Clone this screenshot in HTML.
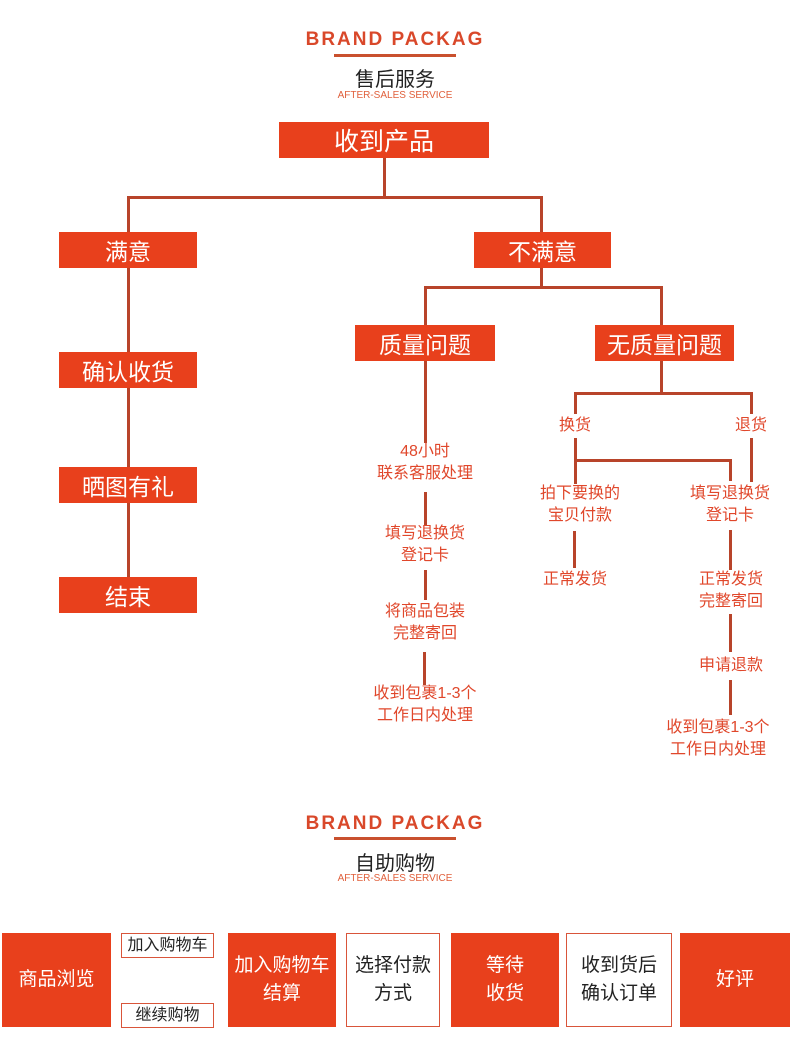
<!DOCTYPE html>
<html><head><meta charset="utf-8"><style>
body{margin:0;width:790px;height:1055px;background:#fff;position:relative;overflow:hidden;font-family:"Liberation Sans","Noto Sans CJK SC",sans-serif}
.a{position:absolute}
.b{position:absolute;background:#e8401c;color:#fff;font-size:23px;display:flex;align-items:center;justify-content:center}
.l{position:absolute;background:#b8442a}
.t{position:absolute;color:#e0472b;font-size:16px;text-align:center;line-height:22px;transform:translateX(-50%);white-space:nowrap}
.h{position:absolute;left:0;width:790px;text-align:center}
.w{position:absolute;background:#fff;border:1px solid #d9553a;color:#222;font-size:19px;display:flex;align-items:center;justify-content:center;text-align:center;line-height:28px;box-sizing:border-box}
.o{position:absolute;background:#e8401c;color:#fff;font-size:19px;display:flex;align-items:center;justify-content:center;text-align:center;line-height:28px}
</style></head><body>
<div class="h" style="top:29px;font-size:19px;font-weight:bold;color:#d9482a;letter-spacing:2px">BRAND PACKAG</div>
<div class="a" style="left:334px;top:54px;width:122px;height:3px;background:#c9502e"></div>
<div class="h" style="top:63px;font-size:20px;color:#222">售后服务</div>
<div class="h" style="top:90px;font-size:10px;color:#e0603c">AFTER-SALES SERVICE</div>

<div class="l" style="left:383px;top:158px;width:3px;height:40px"></div>
<div class="l" style="left:127px;top:196px;width:415px;height:3px"></div>
<div class="l" style="left:540px;top:196px;width:3px;height:40px"></div>
<div class="l" style="left:127px;top:196px;width:3px;height:410px"></div>
<div class="l" style="left:540px;top:266px;width:3px;height:22px"></div>
<div class="l" style="left:424px;top:286px;width:238px;height:3px"></div>
<div class="l" style="left:424px;top:286px;width:3px;height:40px"></div>
<div class="l" style="left:660px;top:286px;width:3px;height:40px"></div>

<div class="b" style="left:279px;top:122px;width:210px;height:36px;font-size:25px">收到产品</div>
<div class="b" style="left:59px;top:232px;width:138px;height:36px">满意</div>
<div class="b" style="left:474px;top:232px;width:137px;height:36px">不满意</div>
<div class="b" style="left:59px;top:352px;width:138px;height:36px">确认收货</div>
<div class="b" style="left:59px;top:467px;width:138px;height:36px">晒图有礼</div>
<div class="b" style="left:59px;top:577px;width:138px;height:36px">结束</div>
<div class="b" style="left:355px;top:325px;width:140px;height:36px">质量问题</div>
<div class="b" style="left:595px;top:325px;width:139px;height:36px">无质量问题</div>

<div class="l" style="left:424px;top:361px;width:3px;height:82px"></div>
<div class="l" style="left:424px;top:492px;width:3px;height:33px"></div>
<div class="l" style="left:424px;top:570px;width:3px;height:30px"></div>
<div class="l" style="left:423px;top:652px;width:3px;height:33px"></div>
<div class="t" style="left:425px;top:441px">48小时<br>联系客服处理</div>
<div class="t" style="left:425px;top:523px">填写退换货<br>登记卡</div>
<div class="t" style="left:425px;top:601px">将商品包装<br>完整寄回</div>
<div class="t" style="left:425px;top:683px">收到包裹1-3个<br>工作日内处理</div>

<div class="l" style="left:660px;top:361px;width:3px;height:33px"></div>
<div class="l" style="left:574px;top:392px;width:179px;height:3px"></div>
<div class="l" style="left:574px;top:392px;width:3px;height:22px"></div>
<div class="l" style="left:750px;top:392px;width:3px;height:22px"></div>
<div class="t" style="left:575px;top:415px">换货</div>
<div class="t" style="left:751px;top:415px">退货</div>
<div class="l" style="left:574px;top:438px;width:3px;height:46px"></div>
<div class="l" style="left:574px;top:459px;width:157px;height:3px"></div>
<div class="l" style="left:729px;top:459px;width:3px;height:22px"></div>
<div class="l" style="left:750px;top:438px;width:3px;height:44px"></div>
<div class="t" style="left:580px;top:483px">拍下要换的<br>宝贝付款</div>
<div class="t" style="left:730px;top:483px">填写退换货<br>登记卡</div>
<div class="l" style="left:573px;top:531px;width:3px;height:37px"></div>
<div class="t" style="left:575px;top:569px">正常发货</div>
<div class="l" style="left:729px;top:530px;width:3px;height:40px"></div>
<div class="t" style="left:731px;top:569px">正常发货<br>完整寄回</div>
<div class="l" style="left:729px;top:614px;width:3px;height:38px"></div>
<div class="t" style="left:731px;top:655px">申请退款</div>
<div class="l" style="left:729px;top:680px;width:3px;height:35px"></div>
<div class="t" style="left:718px;top:717px">收到包裹1-3个<br>工作日内处理</div>

<div class="h" style="top:813px;font-size:19px;font-weight:bold;color:#d9482a;letter-spacing:2px">BRAND PACKAG</div>
<div class="a" style="left:334px;top:837px;width:122px;height:3px;background:#c9502e"></div>
<div class="h" style="top:847px;font-size:20px;color:#222">自助购物</div>
<div class="h" style="top:873px;font-size:10px;color:#e0603c">AFTER-SALES SERVICE</div>

<div class="o" style="left:2px;top:933px;width:109px;height:94px">商品浏览</div>
<div class="w" style="left:121px;top:933px;width:93px;height:25px;font-size:16px">加入购物车</div>
<div class="w" style="left:121px;top:1003px;width:93px;height:25px;font-size:16px">继续购物</div>
<div class="o" style="left:228px;top:933px;width:108px;height:94px">加入购物车<br>结算</div>
<div class="w" style="left:346px;top:933px;width:94px;height:94px">选择付款<br>方式</div>
<div class="o" style="left:451px;top:933px;width:108px;height:94px">等待<br>收货</div>
<div class="w" style="left:566px;top:933px;width:106px;height:94px">收到货后<br>确认订单</div>
<div class="o" style="left:680px;top:933px;width:110px;height:94px">好评</div>
</body></html>
